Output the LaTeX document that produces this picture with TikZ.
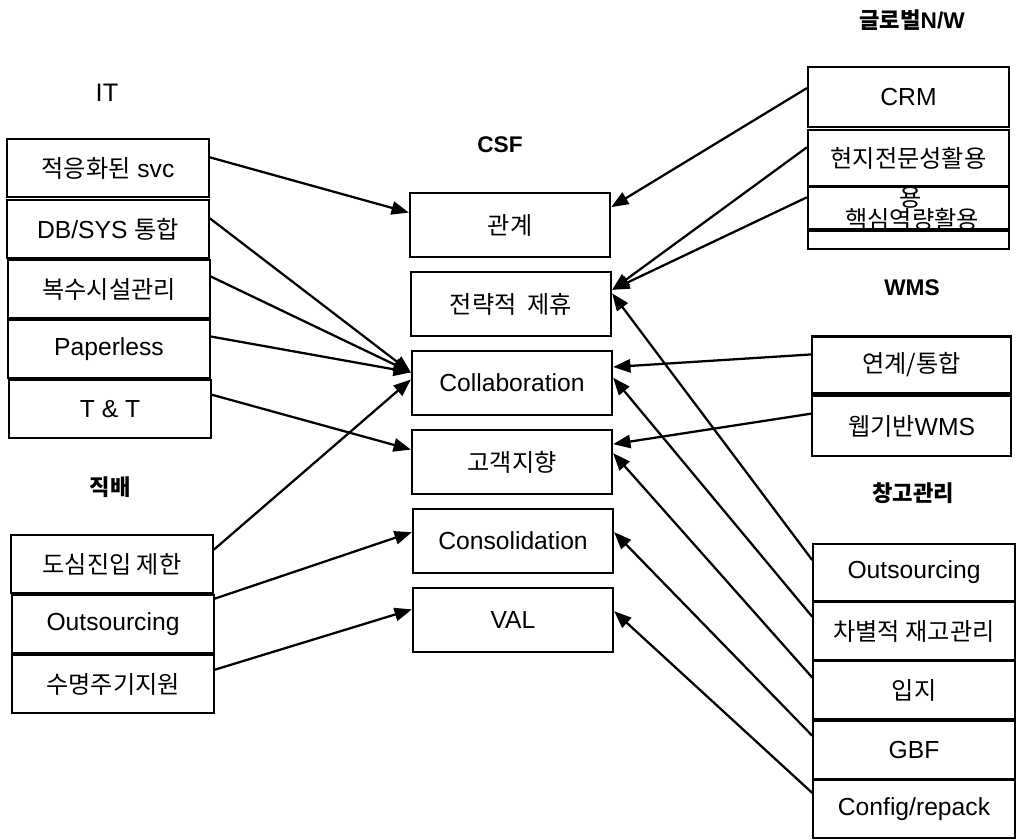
\documentclass[tikz,border=0pt]{standalone}
\usepackage{fontspec}
\setmainfont{Liberation Sans}
\newfontfamily\kr[Scale=0.98]{Noto Sans CJK KR}
\usetikzlibrary{arrows.meta}
\tikzset{every picture/.style={line width=0.75pt}}

\begin{document}
\begin{tikzpicture}[x=0.75pt,y=0.75pt,yscale=-1,xscale=1,
  box/.style={draw,line width=1.7pt,inner sep=0pt,minimum width=151pt,font=\fontsize{18.5}{22}\selectfont},
  csfbox/.style={box,minimum width=150pt,minimum height=48pt},
  hdr/.style={inner sep=0.75pt,font=\bfseries\fontsize{17}{20}\selectfont},
  arr/.style={-{Triangle[length=13pt,width=10pt]},line width=1.7pt}]
\useasboundingbox (0,0) rectangle (1016,839);

% Text Node
\node (itlbl) at (107,93) [inner sep=0.75pt,font=\fontsize{19}{22}\selectfont] {IT};
\node (csflbl) at (500,145) [hdr] {CSF};
\node (nwlbl) at (912,20) [hdr] {{\kr 글로벌}N/W};
\node (wmslbl) at (912,288) [hdr] {WMS};
\node (dlvlbl) at (110,487) [hdr] {\kr 직배};
\node (whlbl) at (913,493) [hdr] {\kr 창고관리};

% IT stack
\node (svc) at (108,168) [box,minimum height=43.5pt] {{\kr 적응화된} svc};
\node (dbsys) at (108,229) [box,minimum height=43.5pt] {DB/SYS {\kr 통합}};
\node (multi) at (109,289) [box,minimum height=43.5pt] {\kr 복수시설관리};
\node (paper) at (109,349) [box,minimum height=43.5pt] {Paperless};
\node (tnt) at (110,409) [box,minimum height=43.5pt] {T \& T};

% direct delivery stack
\node (dosim) at (112,564) [box,minimum height=43pt] {\kr 도심진입\ 제한};
\node (dout) at (113,624) [box,minimum height=43pt] {Outsourcing};
\node (life) at (113,684) [box,minimum height=43pt] {\kr 수명주기지원};

% CSF
\node (rel) at (510,225) [csfbox] {\kr 관계};
\node (strat) at (511,304) [csfbox] {\kr 전략적\ \ 제휴};
\node (collab) at (512,383) [csfbox] {Collaboration};
\node (cust) at (512,462) [csfbox] {\kr 고객지향};
\node (consol) at (513,541) [csfbox] {Consolidation};
\node (val) at (513,620) [csfbox] {VAL};

% global network stack
\node (crm) at (908.5,97) [box,minimum width=150.75pt,minimum height=45pt] {CRM};
\node (local) at (908.5,158) [box,minimum width=150.75pt,minimum height=42pt] {\kr 현지전문성활용};
\node (core) at (908.5,208) [box,minimum width=150.75pt,minimum height=31.5pt] {};
\node (nwgap) at (908.5,240) [box,minimum width=150.75pt,minimum height=13.5pt] {};
\node (yong) at (911,198) [inner sep=0pt,font=\fontsize{18.5}{22}\selectfont] {\kr 용};
\node (coretxt) at (912,219) [inner sep=0pt,font=\fontsize{18.5}{22}\selectfont] {\kr 핵심역량활용};

% WMS stack
\node (link) at (911.5,365) [box,minimum width=149pt,minimum height=42.75pt] {\kr 연계/통합};
\node (web) at (911.5,426) [box,minimum width=149pt,minimum height=45pt] {{\kr 웹기반}WMS};

% warehouse stack
\node (wout) at (914,572.5) [box,minimum height=43pt] {Outsourcing};
\node (diff) at (914,631) [box,minimum height=43pt] {\kr 차별적\ 재고관리};
\node (site) at (914,690) [box,minimum height=43pt] {\kr 입지};
\node (gbf) at (914,750) [box,minimum height=43pt] {GBF};
\node (conf) at (914,809) [box,minimum height=43pt] {Config/repack};

% Straight Lines
\draw [arr] (svc.6) -- (rel.173);
\draw [arr] (dbsys.6) -- (collab.174);
\draw [arr] (multi.7) -- (collab.174);
\draw [arr] (paper.7) -- (collab.174);
\draw [arr] (tnt.8) -- (cust.173);
\draw [arr] (dosim.8) -- (collab.178);
\draw [arr] (dout.14) -- (consol.175);
\draw [arr] (life.8) -- (val.174);

\draw [arr] (crm.175) -- (rel.10);
\draw [arr] (local.174) -- (strat.8);
\draw [arr] (core.174) -- (strat.8);
\draw [arr] (wout.173) -- (strat.6);
\draw [arr] (link.174) -- (collab.9);
\draw [arr] (web.173) -- (cust.10);
\draw [arr] (diff.172) -- (collab.3);
\draw [arr] (site.173) -- (cust.5);
\draw [arr] (gbf.172) -- (consol.5);
\draw [arr] (conf.171) -- (val.5);

\end{tikzpicture}
\end{document}
